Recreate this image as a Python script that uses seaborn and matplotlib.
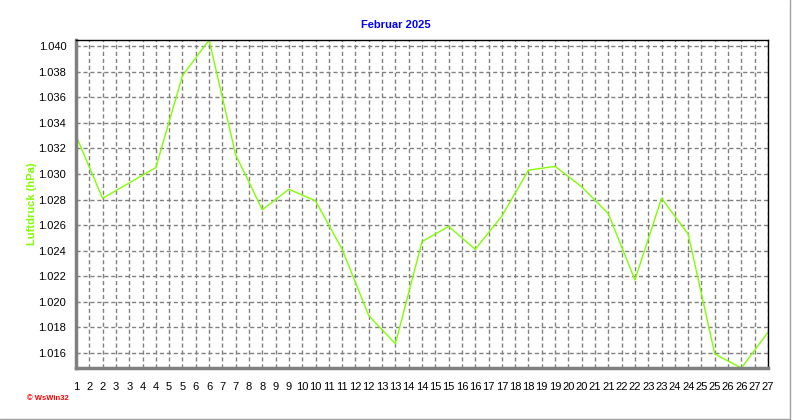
import numpy as np
import pandas as pd
import matplotlib
matplotlib.use("Agg")
import matplotlib.pyplot as plt
import seaborn as sns
from matplotlib.ticker import MultipleLocator, FormatStrFormatter
from matplotlib.lines import Line2D

################ DATA ################
days = list(range(1, 28))
pressure = [1.0330, 1.0281, 1.0293, 1.0305, 1.0377, 1.0405, 1.0315, 1.0272, 1.0288,
            1.0279, 1.0241, 1.0189, 1.0167, 1.0247, 1.0259, 1.0241, 1.0267, 1.0303,
            1.0306, 1.0290, 1.0269, 1.0217, 1.0281, 1.0253, 1.0159, 1.0148, 1.0176]

title = "Februar 2025"
ylabel = "Luftdruck (hPa)"

df = pd.DataFrame({"day": days, "pressure": pressure})

################ PLOT ################
sns.set_style("white")
plt.rcParams['font.family'] = ['Liberation Sans', 'DejaVu Sans']

fig = plt.figure(figsize=(7.92, 4.2), dpi=100)
ax = fig.add_axes([76/792, 1 - 368/420, (768-76)/792, (368-40)/420])

sns.lineplot(data=df, x="day", y="pressure", ax=ax, color="#80ff00", linewidth=1)

ax.set_xlim(days[0], days[-1])
ax.set_ylim(min(pressure), max(pressure))

# x ticks every half day, labelled with rounded day (1 2 2 3 3 ...)
xt = np.arange(days[0], days[-1] + 0.01, 0.5)
xlabels = [str(int(np.floor(t + 0.5))) for t in xt]
ax.set_xticks(xt, labels=xlabels)
ax.xaxis.set_minor_locator(MultipleLocator(0.1))

ax.yaxis.set_major_locator(MultipleLocator(0.002))
ax.yaxis.set_major_formatter(FormatStrFormatter('%.3f'))
ax.yaxis.set_minor_locator(MultipleLocator(0.0005))

ax.grid(True, which='major', color='#808080', linestyle=(0, (3, 2)), linewidth=1)
ax.tick_params(axis='both', which='major', labelsize=8, length=4, width=1,
               color='#808080', labelcolor='black', pad=3)
ax.tick_params(axis='both', which='minor', length=2, width=1, color='#808080')
ax.tick_params(axis='x', pad=6)

for side in ['left', 'bottom']:
    ax.spines[side].set_color('#808080')
    ax.spines[side].set_linewidth(2.5)
for side in ['top', 'right']:
    ax.spines[side].set_color('black')
    ax.spines[side].set_linewidth(1)

ax.set_xlabel("")
ax.set_ylabel("")

fig.text(0.5, 1 - 25/420, title, color='#0000ff', fontsize=8, fontweight='bold',
         ha='center', va='center')
fig.text(32/792, 1 - 204/420, ylabel, color='#80ff00', fontsize=8, fontweight='bold',
         ha='center', va='center', rotation=90)
fig.text(27/792, 1 - 399/420, "\u00a9 WsWin32", color='#ff0000', fontsize=5.5,
         fontweight='bold', ha='left', va='center')

# window style border right and bottom
fig.add_artist(Line2D([0, 790/792, 790/792], [1/420, 1/420, 1], color='#a0a0a0', linewidth=1))

fig.savefig("out.png", dpi=100)
